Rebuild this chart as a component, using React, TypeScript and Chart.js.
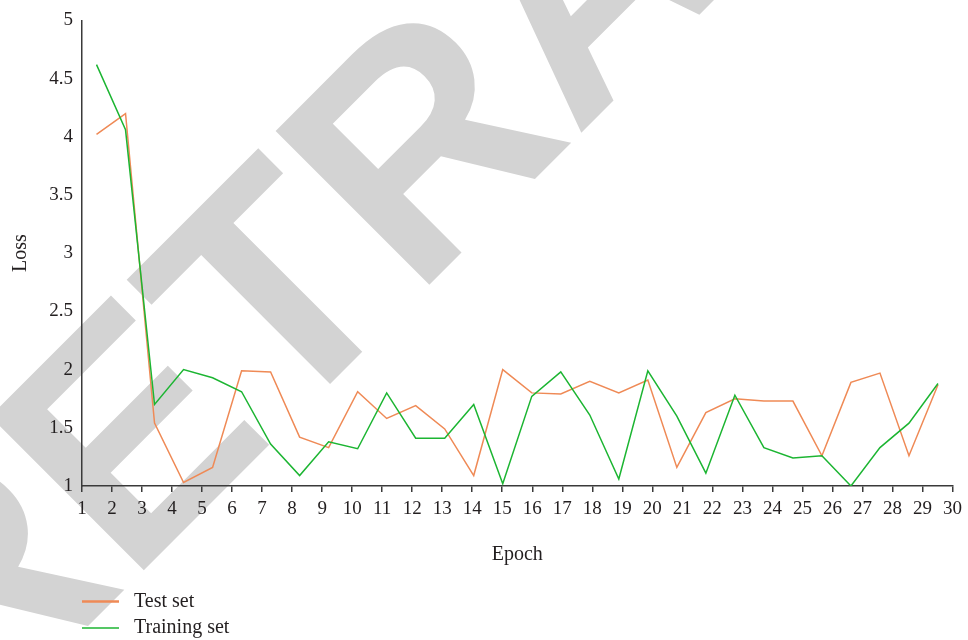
import React, { useEffect, useRef } from "react";
import { Chart, registerables } from "chart.js";

Chart.register(...registerables);

const epochs = ["1","2","3","4","5","6","7","8","9","10","11","12","13","14","15","16","17","18","19","20","21","22","23","24","25","26","27","28","29","30"];
const testSet = [4.02, 4.2, 1.54, 1.03, 1.16, 1.99, 1.98, 1.42, 1.33, 1.81, 1.58, 1.69, 1.49, 1.09, 2.0, 1.8, 1.79, 1.9, 1.8, 1.91, 1.16, 1.63, 1.75, 1.73, 1.73, 1.26, 1.89, 1.97, 1.26, 1.87];
const trainingSet = [4.62, 4.06, 1.7, 2.0, 1.93, 1.81, 1.36, 1.09, 1.38, 1.32, 1.8, 1.41, 1.41, 1.7, 1.02, 1.77, 1.98, 1.61, 1.06, 1.99, 1.6, 1.11, 1.78, 1.33, 1.24, 1.26, 1.0, 1.33, 1.54, 1.88];
const seriesNames = ["Test set", "Training set"];
const seriesColors = ["#ef8a56", "#1cb532"];
const watermarkText = "RETRACTED";

const TEXT = "#231f20";
const AXIS = "#3a3a3a";
const FONT = "'Liberation Serif', 'Times New Roman', serif";

const watermarkPlugin = {
  id: "watermark",
  beforeDraw(chart: any) {
    const ctx = chart.ctx;
    ctx.save();
    ctx.translate(-32.5, 746.5);
    ctx.rotate(-Math.PI / 4);
    ctx.fillStyle = "#d3d3d3";
    ctx.font = "bold 316px 'Liberation Sans', Arial, sans-serif";
    ctx.textAlign = "left";
    ctx.textBaseline = "alphabetic";
    ctx.fillText(watermarkText, 0, 0);
    ctx.restore();
  },
};

const legendPlugin = {
  id: "customLegend",
  afterDraw(chart: any) {
    const ctx = chart.ctx;
    const rows = [601.5, 628];
    const widths = [2.5, 1.5];
    ctx.save();
    seriesNames.forEach((name, i) => {
      const y = rows[i];
      ctx.strokeStyle = seriesColors[i];
      ctx.lineWidth = widths[i];
      ctx.beginPath();
      ctx.moveTo(82, y);
      ctx.lineTo(119, y);
      ctx.stroke();
      ctx.fillStyle = TEXT;
      ctx.font = "20px " + FONT;
      ctx.textAlign = "left";
      ctx.textBaseline = "middle";
      ctx.fillText(name, 134, y);
    });
    ctx.restore();
  },
};

export default function App() {
  const ref = useRef<HTMLCanvasElement | null>(null);

  useEffect(() => {
    if (!ref.current) return;
    const chart = new Chart(ref.current, {
      type: "line",
      data: {
        labels: epochs,
        datasets: [
          {
            label: seriesNames[0],
            data: testSet,
            borderColor: seriesColors[0],
            backgroundColor: seriesColors[0],
            borderWidth: 1.5,
            pointRadius: 0,
            tension: 0,
            fill: false,
            xAxisID: "x",
            yAxisID: "y",
            order: 2,
          },
          {
            label: seriesNames[1],
            data: trainingSet,
            borderColor: seriesColors[1],
            backgroundColor: seriesColors[1],
            borderWidth: 1.5,
            pointRadius: 0,
            tension: 0,
            fill: false,
            xAxisID: "x",
            yAxisID: "y",
            order: 1,
          },
        ],
      },
      options: {
        animation: false,
        responsive: false,
        maintainAspectRatio: false,
        layout: { padding: { top: 17, right: 11, bottom: 0, left: 0 } },
        plugins: {
          legend: { display: false },
          tooltip: { enabled: false },
        },
        scales: {
          x: {
            type: "category",
            display: false,
            offset: true,
            position: "bottom",
          },
          x2: {
            type: "linear",
            position: "bottom",
            min: 1,
            max: 30,
            afterFit: (s: any) => {
              s.height = 154;
            },
            border: { display: true, color: AXIS, width: 1.5 },
            grid: {
              display: true,
              drawOnChartArea: false,
              drawTicks: true,
              tickLength: 6,
              color: AXIS,
              lineWidth: 1.5,
            },
            ticks: {
              stepSize: 1,
              autoSkip: false,
              maxRotation: 0,
              padding: 6,
              color: TEXT,
              font: { family: FONT, size: 19 },
            },
            title: {
              display: true,
              text: "Epoch",
              color: TEXT,
              font: { family: FONT, size: 20 },
              padding: { top: 4, bottom: 73 },
            },
          },
          y: {
            type: "linear",
            position: "left",
            min: 1,
            max: 5,
            afterFit: (s: any) => {
              s.width = 82;
            },
            border: { display: true, color: AXIS, width: 1.5 },
            grid: { display: false, drawTicks: false },
            ticks: {
              stepSize: 0.5,
              padding: 9,
              color: TEXT,
              font: { family: FONT, size: 19 },
              callback: (v: any) => String(Number(v)),
            },
            title: {
              display: true,
              text: "Loss",
              color: TEXT,
              font: { family: FONT, size: 20 },
              padding: { top: 9, bottom: 4 },
            },
          },
        },
      },
      plugins: [watermarkPlugin, legendPlugin],
    });
    return () => chart.destroy();
  }, []);

  return (
    <div style={{ position: "fixed", left: 0, top: 0, width: 968, height: 640, background: "#fff" }}>
      <canvas ref={ref} width={968} height={640} style={{ display: "block", width: 968, height: 640 }} />
    </div>
  );
}
